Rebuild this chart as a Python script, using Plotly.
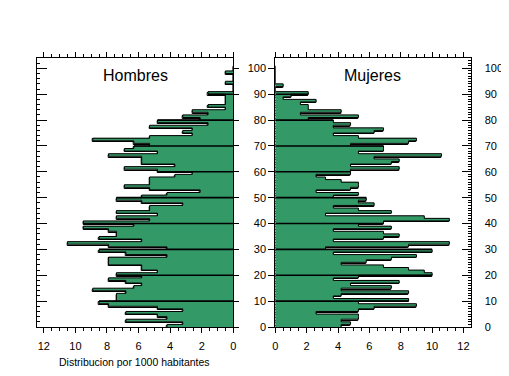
import plotly.graph_objects as go

ages = list(range(101))

hombres = [4.2, 3.2, 6.8, 4.2, 4.8, 6.8, 3.2, 4.8, 7.9, 8.5,
           7.4, 7.4, 7.4, 6.8, 8.9, 6.3, 5.8, 6.8, 7.9, 5.8,
           7.4, 4.8, 5.8, 5.8, 7.9, 7.9, 7.9, 4.2, 6.8, 8.5,
           4.2, 7.9, 10.5, 5.8, 8.5, 7.4, 7.4, 7.9, 9.5, 6.3,
           9.5, 5.3, 7.4, 4.8, 7.4, 5.3, 5.3, 3.2, 5.8, 7.4,
           5.8, 4.2, 2.1, 5.3, 6.9, 5.3, 5.3, 5.3, 3.7, 2.6,
           4.8, 6.9, 3.7, 5.8, 5.8, 5.8, 7.9, 4.8, 6.9, 6.3,
           5.3, 6.3, 8.9, 5.3, 2.6, 3.2, 2.6, 5.3, 1.6, 4.8,
           2.1, 3.2, 1.6, 2.6, 0.5, 1.6, 0.5, 0.5, 0.5, 0.5,
           1.6, 0, 0, 0, 0.5, 0, 0, 0, 0.5, 0, 0]

mujeres = [4.2, 4.8, 4.2, 5.3, 5.3, 2.6, 5.3, 6.3, 9.0, 5.3,
           8.5, 3.7, 4.2, 8.5, 4.2, 7.4, 4.8, 7.9, 3.7, 5.3,
           10.0, 9.5, 8.5, 6.9, 4.2, 5.8, 7.4, 9.0, 3.7, 10.0,
           3.2, 8.5, 11.1, 3.7, 6.9, 7.9, 6.9, 3.7, 7.4, 5.3,
           6.9, 11.1, 9.5, 3.2, 7.4, 5.3, 3.7, 6.3, 5.3, 5.8,
           3.7, 5.3, 2.6, 4.8, 5.3, 5.3, 4.2, 3.2, 2.6, 4.8,
           4.8, 7.9, 4.8, 7.4, 7.9, 6.3, 10.6, 5.3, 6.9, 6.9,
           4.8, 8.5, 9.0, 5.3, 3.7, 6.3, 6.9, 3.7, 4.8, 3.7,
           2.1, 5.3, 1.6, 4.2, 2.1, 2.1, 1.6, 2.6, 0.5, 1.0,
           2.1, 0, 0, 0.5, 0, 0, 0, 0, 0, 0, 0]

x_ticks = [0, 2, 4, 6, 8, 10, 12]
y_ticks = [0, 10, 20, 30, 40, 50, 60, 70, 80, 90, 100]
decades = [10, 20, 30, 40, 50, 60, 70, 80, 90]
titles = ["Hombres", "Mujeres"]
x_title = "Distribucion por 1000 habitantes"

GREEN = "#339966"
FONT = "Liberation Sans, Arial, sans-serif"
OFF = 8  # page body margin in px

W, H = 509, 376


def px(x):
    return (x - OFF) / W


def py(y):
    return 1 - (y - OFF) / H


fig = go.Figure()


def add_panel(values, xa, ya):
    # bar outlines (one rectangle per age)
    fig.add_trace(go.Bar(x=values, y=ages, orientation="h", width=1,
                         marker=dict(color="white", line=dict(color="black", width=1)),
                         xaxis=xa, yaxis=ya, showlegend=False, hoverinfo="skip"))
    # green stepped silhouette on top
    fig.add_trace(go.Scatter(x=values + [0], y=ages + [ages[-1] + 1], mode="lines",
                             line=dict(color="black", width=1, shape="vh"),
                             fill="tozerox", fillcolor=GREEN,
                             xaxis=xa, yaxis=ya, showlegend=False, hoverinfo="skip"))
    lx, ly = [], []
    for d in decades:
        lx += [0, max(values[d - 1], values[d]), None]
        ly += [d, d, None]
    fig.add_trace(go.Scatter(x=lx, y=ly, mode="lines", line=dict(color="black", width=1.6),
                             xaxis=xa, yaxis=ya, showlegend=False, hoverinfo="skip"))


add_panel(hombres, "x", "y")
add_panel(mujeres, "x2", "y2")

YDOM = [py(327), py(58)]
YR = [0, 104]
XR = 12.45

common_x = dict(tickvals=x_ticks, ticks="outside", ticklen=5, tickcolor="black",
                minor=dict(tickmode="linear", tick0=0, dtick=0.5, ticks="outside", ticklen=3,
                           tickcolor="black"),
                showline=True, linecolor="black", linewidth=1, mirror="ticks",
                showgrid=False, zeroline=False, tickfont=dict(size=11, color="black"),
                ticklabelstandoff=4, automargin=False)

fig.update_layout(
    width=W, height=H, margin=dict(l=0, r=0, t=0, b=0, autoexpand=False),
    paper_bgcolor="white", plot_bgcolor="white",
    barmode="overlay", bargap=0,
    font=dict(family=FONT, color="black"),
    xaxis=dict(domain=[px(36.7), px(233.3)], range=[XR, 0], anchor="y", **common_x),
    xaxis2=dict(domain=[px(275.3), px(470.5)], range=[0, XR], anchor="y2", **common_x),
    yaxis=dict(domain=YDOM, range=YR, anchor="x", side="left", tickvals=y_ticks,
               ticks="inside", ticklen=10, tickcolor="black", showticklabels=False,
               minor=dict(tickmode="linear", tick0=0, dtick=2, ticks="inside", ticklen=3,
                          tickcolor="black"),
               showline=True, linecolor="black", showgrid=False, zeroline=False,
               automargin=False),
    yaxis3=dict(overlaying="y", range=YR, anchor="x", side="right", tickvals=y_ticks,
                ticks="outside", ticklen=5, tickcolor="black", showticklabels=False,
                showline=True, linecolor="black", showgrid=False, zeroline=False,
                automargin=False),
    yaxis2=dict(domain=YDOM, range=YR, anchor="x2", side="left", tickvals=y_ticks,
                ticks="outside", ticklen=6, tickcolor="black",
                tickfont=dict(size=11, color="black"),
                showline=True, linecolor="black", showgrid=False, zeroline=False,
                automargin=False),
    yaxis4=dict(overlaying="y2", range=YR, anchor="x2", side="right", tickvals=y_ticks,
                ticks="inside", ticklen=9, tickcolor="black",
                tickfont=dict(size=11, color="black"), ticklabelstandoff=11,
                minor=dict(tickmode="linear", tick0=0, dtick=1, ticks="inside", ticklen=3,
                           tickcolor="black"),
                showline=True, linecolor="black", showgrid=False, zeroline=False,
                automargin=False),
    annotations=[
        dict(text=titles[0], x=px(135), y=py(75), xref="paper", yref="paper",
             xanchor="center", yanchor="middle",
             showarrow=False, font=dict(size=16, color="black")),
        dict(text=titles[1], x=px(372), y=py(75), xref="paper", yref="paper",
             xanchor="center", yanchor="middle",
             showarrow=False, font=dict(size=16, color="black")),
        dict(text=x_title, x=px(134.5), y=py(362), xref="paper", yref="paper",
             xanchor="center", yanchor="middle",
             showarrow=False, font=dict(size=10.5, color="black")),
    ],
)

fig.add_trace(go.Scatter(x=[None], y=[None], xaxis="x", yaxis="y3", showlegend=False))
fig.add_trace(go.Scatter(x=[None], y=[None], xaxis="x2", yaxis="y4", showlegend=False))

fig.write_html("out.html")
